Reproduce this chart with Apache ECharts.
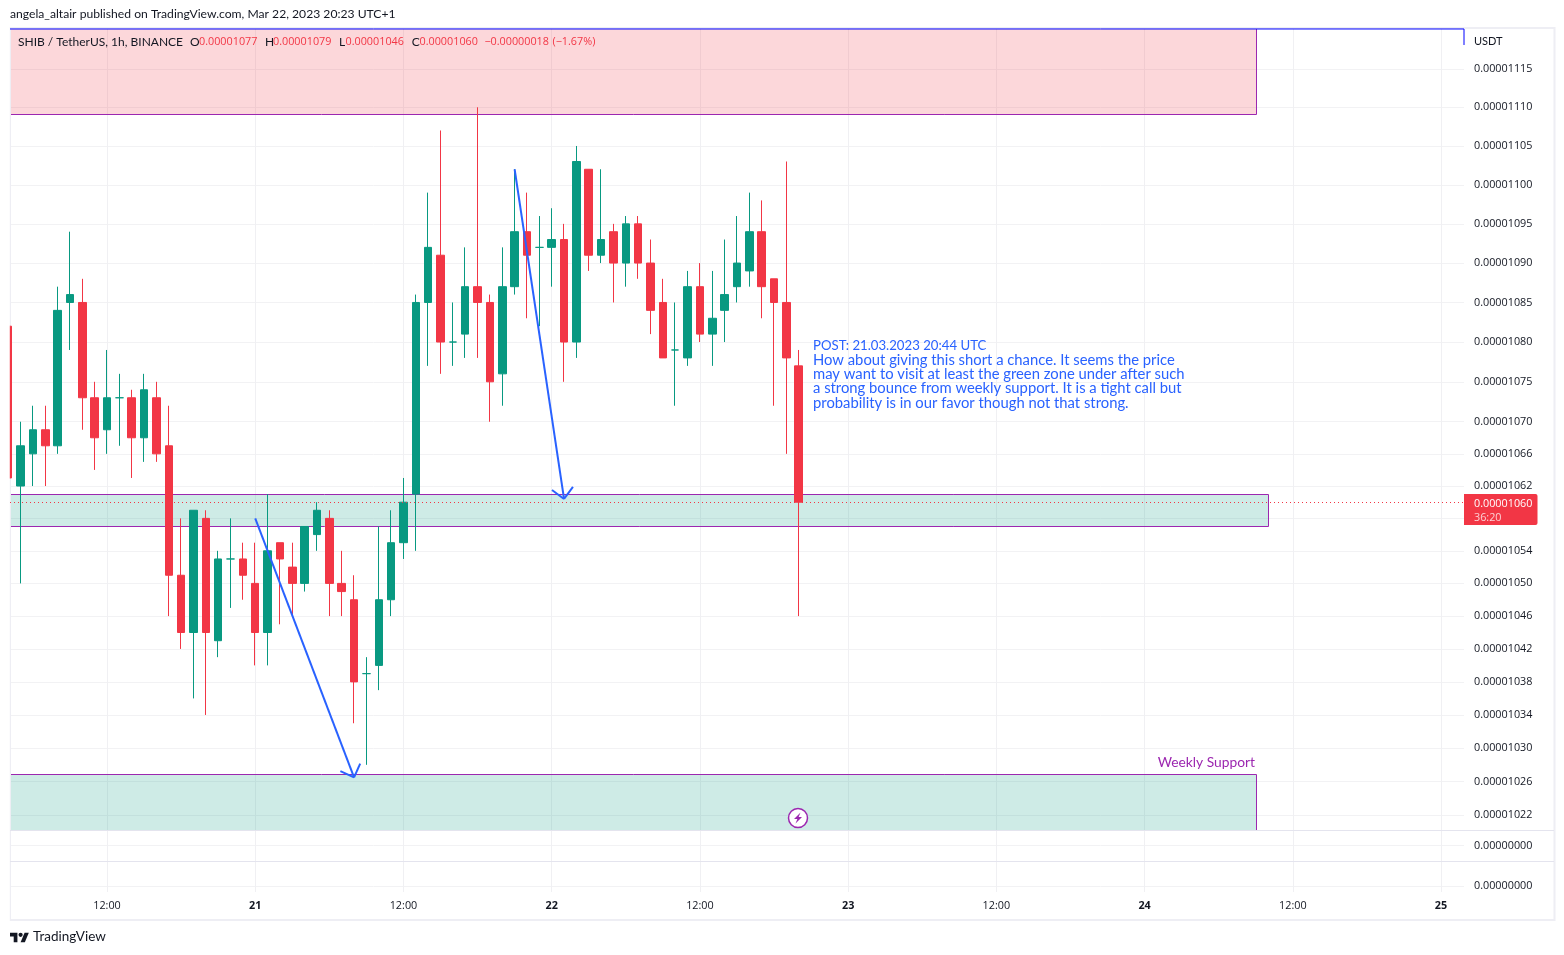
<!DOCTYPE html>
<html><head><meta charset="utf-8">
<style>html,body{margin:0;padding:0;background:#fff}#c{width:1564px;height:955px}</style>
<script src="https://cdn.jsdelivr.net/npm/echarts@6/dist/echarts.min.js"></script>
</head><body><div id="c"></div>
<script>
// hourly candles; x is hours after 20 Mar 04:00, prices in units of 0.00000001 USDT
const opens  = [1082,1062,1066,1069,1067,1085,1085,1073,1069,1073,1073,1068,1073,1067,1051,1044,1058,1043,1053,1053,1050,1044,1055,1052,1050,1056,1058,1050,1048,1039,1040,1048,1055,1061,1085,1091,1080,1081,1087,1085,1076,1087,1094,1092,1092,1093,1080,1102,1091,1094,1090,1095,1090,1085,1079,1078,1087,1081,1084,1087,1089,1094,1088,1085,1077];
const closes = [1063,1067,1069,1067,1084,1086,1073,1068,1073,1073,1068,1074,1066,1051,1044,1059,1044,1053,1053,1051,1044,1054,1053,1050,1057,1059,1050,1049,1038,1039,1048,1055,1060,1085,1092,1080,1080,1087,1085,1075,1087,1094,1091,1092,1093,1080,1103,1091,1093,1090,1095,1090,1084,1078,1079,1087,1081,1083,1086,1090,1094,1087,1085,1078,1060];
const lows   = [1063,1050,1062,1062,1066,1079,1069,1064,1066,1067,1063,1065,1065,1046,1042,1036,1034,1041,1047,1048,1040,1040,1045,1046,1049,1054,1046,1046,1033,1028,1037,1046,1053,1054,1077,1076,1077,1078,1078,1070,1072,1086,1083,1082,1087,1075,1078,1089,1090,1085,1087,1088,1081,1078,1072,1077,1080,1077,1080,1085,1087,1083,1072,1066,1046];
const highs  = [1082,1070,1072,1072,1087,1094,1088,1075,1079,1076,1074,1076,1075,1072,1058,1059,1059,1054,1058,1055,1055,1061,1055,1055,1057,1060,1059,1054,1051,1041,1057,1059,1063,1086,1099,1107,1085,1092,1110,1086,1092,1102,1099,1096,1097,1095,1105,1102,1102,1095,1096,1096,1093,1088,1085,1089,1090,1089,1093,1096,1099,1098,1088,1103,1079];
const yTicks = [1115,1110,1105,1100,1095,1090,1085,1080,1075,1070,1066,1062,1058,1054,1050,1046,1042,1038,1034,1030,1026,1022];
const hiddenTickLabels = [1058];
const currentPrice = 1060;
// time axis ticks (hours after the first candle) and their labels
const xTicks = [8,20,32,44,56,68,80,92,104,116];
const xTickLabels = ['12:00','21','12:00','22','12:00','23','12:00','24','12:00','25'];
// zones (hours after the first candle, prices)
const zoneX1 = [-5,-5,-5];
const zoneX2 = [101,102,101];
const zoneHi = [1125,1061,1026.9];
const zoneLo = [1109.1,1057,1015];
const zoneFill = ['rgba(242,54,69,0.2)','rgba(8,153,129,0.2)','rgba(8,153,129,0.2)'];
// arrows
const arrowX1 = [20,41];
const arrowY1 = [1058,1102];
const arrowX2 = [28,45];
const arrowY2 = [1026.5,1060.4];
const noteTitle = 'POST: 21.03.2023 20:44 UTC';
const noteLines = ['How about giving this short a chance. It seems the price','may want to visit at least the green zone under after such','a strong bounce from weekly support. It is a tight call but','probability is in our favor though not that strong.'];

const xMin = 0.146, xMax = 117.86;
const yMin = 1020.21, yMax = 1120.32;
const UP='#089981', DOWN='#F23645', PURPLE='#9c27b0', BLUE='#2962ff', INK='#131722', GRID='#f2f2f4', FRAME='#eeeef4', SEP='#e4e4ee';
const FONT='Lato', NUM='"Open Sans"', NUMSIZE=10.8;
const fmt = v => (v/1e8).toFixed(8);

const candle = opens.map((o,i)=>[i,o,closes[i],lows[i],highs[i]]);
function xAxisFor(idx, show){
  return {type:'value',gridIndex:idx,min:xMin,max:xMax,scale:true,
    axisLine:{show:false},axisTick:{show:false,customValues:xTicks},
    splitLine:{show:true,lineStyle:{color:'#f0f0f3',width:1}},minorSplitLine:{show:false},
    axisLabel:{show:show,customValues:xTicks,hideOverlap:false,margin:8,color:INK,fontFamily:NUM,fontSize:NUMSIZE,
      formatter:v=>{const s=xTickLabels[xTicks.indexOf(v)];return s==='12:00'?s:'{b|'+s+'}';},
      rich:{b:{fontWeight:'bold',color:INK,fontFamily:NUM,fontSize:NUMSIZE}}}};
}
function textEl(x,y,s,color,size,align,fam){
  return {type:'text',x:x,y:y,z:100,silent:true,style:{text:s,fill:color,font:(size||12)+'px '+(fam||FONT),textAlign:align||'left',textVerticalAlign:'middle'}};
}
const legend=[[18,'SHIB / TetherUS, 1h, BINANCE',INK,FONT,12],[190,'O',INK,FONT,12],[199,'0.00001077',DOWN,NUM,NUMSIZE],[265,'H',INK,FONT,12],[273,'0.00001079',DOWN,NUM,NUMSIZE],[339,'L',INK,FONT,12],[345.5,'0.00001046',DOWN,NUM,NUMSIZE],[411.7,'C',INK,FONT,12],[419.5,'0.00001060',DOWN,NUM,NUMSIZE],[484.4,'\u22120.00000018',DOWN,NUM,NUMSIZE],[552.5,'(\u22121.67%)',DOWN,NUM,NUMSIZE]];
const lx=x=>10+0.53*x, ly=y=>930.6+0.53*y;
const logoT=[[14,22],[7,22],[7,11],[0,11],[0,4],[14,4]].map(p=>[lx(p[0]),ly(p[1])]);
const logoV=[[28,22],[20,22],[27.5,4],[35.5,4]].map(p=>[lx(p[0]),ly(p[1])]);
const crisp=v=>Math.round(v)+0.5;
const yLabel={margin:10,padding:[4,0,0,0],color:INK,fontFamily:NUM,fontSize:NUMSIZE};

const option={
  animation:false,backgroundColor:'#fff',
  grid:[{left:10,right:100,top:28,height:802},{left:10,right:100,top:830,height:31},{left:10,right:100,top:861,height:31}],
  xAxis:[xAxisFor(0,false),xAxisFor(1,false),xAxisFor(2,true)],
  yAxis:[
    {type:'log',gridIndex:0,position:'right',min:yMin,max:yMax,logBase:10,axisLine:{show:false},
     axisTick:{show:false,customValues:yTicks},minorTick:{show:false},minorSplitLine:{show:false},
     splitLine:{show:true,lineStyle:{color:GRID}},
     axisLabel:{...yLabel,customValues:yTicks,showMinLabel:true,showMaxLabel:true,
       formatter:v=>hiddenTickLabels.includes(Math.round(v))?'':fmt(Math.round(v))}},
    {type:'value',gridIndex:1,position:'right',min:0,max:2,interval:1,axisLine:{show:false},axisTick:{show:false},
     splitLine:{show:true,lineStyle:{color:GRID}},
     axisLabel:{...yLabel,showMinLabel:false,showMaxLabel:false,formatter:()=>'0.00000000'}},
    {type:'value',gridIndex:2,position:'right',min:0,max:5,interval:1,axisLine:{show:false},axisTick:{show:false,customValues:[1]},
     splitLine:{show:true,lineStyle:{color:GRID}},
     axisLabel:{...yLabel,customValues:[1],formatter:()=>'0.00000000'}}
  ],
  series:[
    {type:'custom',xAxisIndex:0,yAxisIndex:0,z:1,silent:true,clip:true,
     data:zoneX1.map((x,i)=>[x,zoneX2[i],zoneHi[i],zoneLo[i]]),
     encode:{x:[0,1],y:[2,3]},
     renderItem:(p,api)=>{
       const i=p.dataIndex, a=api.coord([zoneX1[i],zoneHi[i]]), b=api.coord([zoneX2[i],zoneLo[i]]), c=p.coordSys;
       const l=Math.max(a[0],c.x), t=Math.max(crisp(a[1]-0.5),c.y), r=Math.min(crisp(b[0]),c.x+c.width), m=Math.min(crisp(b[1]-0.5),c.y+c.height);
       const ls={stroke:PURPLE,lineWidth:1,fill:null};
       const kids=[{type:'rect',shape:{x:l,y:t,width:r-l,height:m-t},style:{fill:zoneFill[i]}}];
       if(a[1]>=c.y)kids.push({type:'line',shape:{x1:l,y1:t,x2:r,y2:t},style:ls});
       if(b[1]<=c.y+c.height)kids.push({type:'line',shape:{x1:l,y1:m,x2:r,y2:m},style:ls});
       kids.push({type:'line',shape:{x1:r,y1:t,x2:r,y2:m},style:ls});
       return {type:'group',children:kids};
     }},
    {type:'candlestick',xAxisIndex:0,yAxisIndex:0,z:3,barWidth:8,data:candle,encode:{x:0,y:[1,2,3,4]},
     itemStyle:{color:UP,color0:DOWN,borderColor:UP,borderColor0:DOWN,borderWidth:1},
     markLine:{silent:true,symbol:'none',animation:false,label:{show:false},
       lineStyle:{color:DOWN,type:[1,3],width:1},data:[{yAxis:currentPrice}]}},
    {type:'custom',xAxisIndex:0,yAxisIndex:0,z:5,silent:true,
     data:arrowX1.map((x,i)=>[x,arrowX2[i],arrowY1[i],arrowY2[i]]),
     encode:{x:[0,1],y:[2,3]},
     renderItem:(p,api)=>{
       const i=p.dataIndex, a=api.coord([arrowX1[i],arrowY1[i]]), b=api.coord([arrowX2[i],arrowY2[i]]);
       const ang=Math.atan2(a[1]-b[1],a[0]-b[0]), L=15, D=Math.PI/4;
       const st={stroke:BLUE,lineWidth:2,fill:null};
       const line=(u,v)=>({type:'line',shape:{x1:u[0],y1:u[1],x2:v[0],y2:v[1]},style:st});
       return {type:'group',children:[line(a,b),
         line(b,[b[0]+L*Math.cos(ang+D),b[1]+L*Math.sin(ang+D)]),
         line(b,[b[0]+L*Math.cos(ang-D),b[1]+L*Math.sin(ang-D)])]};
     }},
    {type:'line',xAxisIndex:0,yAxisIndex:0,z:6,clip:false,silent:true,showSymbol:false,
     lineStyle:{color:'#0000ff',width:1},data:[[xMin,1120.19],[xMax,1120.19],[xMax,1118.1]]}
  ],
  graphic:{elements:[
    {type:'rect',z:2,silent:true,shape:{x:0,y:20,width:10,height:910},style:{fill:'#fff'}},
    {type:'rect',z:80,silent:true,shape:{x:0,y:20,width:9.8,height:910},style:{fill:'#fff'}},
    {type:'rect',z:2,silent:true,shape:{x:10,y:28,width:1544.5,height:892},style:{fill:null,stroke:FRAME,lineWidth:2}},
    {type:'line',z:90,silent:true,shape:{x1:10,y1:830.5,x2:1554,y2:830.5},style:{stroke:SEP,lineWidth:1}},
    {type:'line',z:90,silent:true,shape:{x1:10,y1:861.5,x2:1554,y2:861.5},style:{stroke:SEP,lineWidth:1}},
    textEl(10,14,'angela_altair published on TradingView.com, Mar 22, 2023 20:23 UTC+1',INK,12.15),
    ...legend.map(a=>textEl(a[0],42,a[1],a[2],a[4],'left',a[3])),
    textEl(1474,41,'USDT',INK,11),
    textEl(813,346,noteTitle,BLUE,13.2),
    ...noteLines.map((s,i)=>textEl(813,360.2+i*14.2,s,BLUE,14.8)),
    textEl(1255,763,'Weekly Support',PURPLE,13.8,'right'),
    {type:'rect',z:95,silent:true,shape:{x:1464,y:494,width:73.5,height:31,r:[0,2,2,0]},style:{fill:DOWN}},
    textEl(1474,503.5,'0.00001060','#ffffff',NUMSIZE,'left',NUM),
    textEl(1474,517.5,'36:20','#fcd0d4',NUMSIZE,'left',NUM),
    {type:'circle',z:96,silent:true,shape:{cx:798,cy:818,r:9.5},style:{fill:'#fff',stroke:PURPLE,lineWidth:1.5}},
    {type:'polygon',z:97,silent:true,shape:{points:[[800.5,812.5],[794,819],[797.4,819],[795.5,823.5],[802,817],[798.6,817]]},style:{fill:PURPLE}},
    {type:'polygon',z:96,silent:true,shape:{points:logoT},style:{fill:INK}},
    {type:'polygon',z:96,silent:true,shape:{points:logoV},style:{fill:INK}},
    {type:'circle',z:96,silent:true,shape:{cx:20.6,cy:934.8,r:2.1},style:{fill:INK}},
    textEl(33,937,'TradingView',INK,13.5)
  ]}
};
echarts.init(document.getElementById('c')).setOption(option);
</script></body></html>
